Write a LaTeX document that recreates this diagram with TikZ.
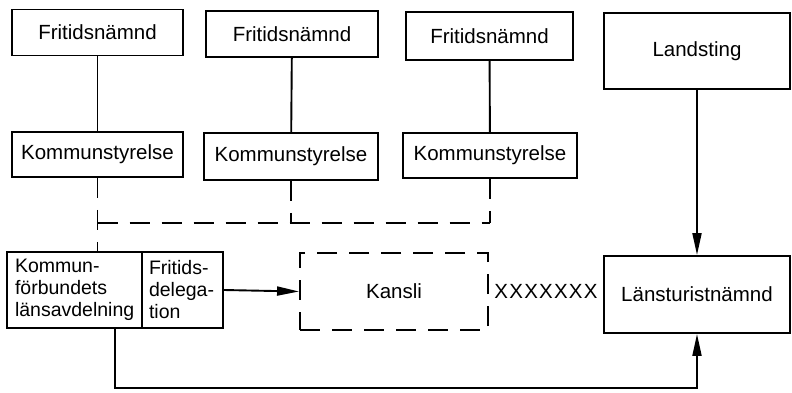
\documentclass[tikz,border=0pt]{standalone}
\usepackage{fontspec}
\setmainfont{Liberation Sans}
\newfontfamily\xfont{Liberation Sans}[LetterSpace=6]
\usetikzlibrary{arrows.meta}

\begin{document}
\begin{tikzpicture}[x=1pt,y=-1pt,line width=1.9pt,
  box/.style={draw, inner sep=0pt, minimum height=46pt, font=\fontsize{20.5}{22}\selectfont},
  twoline/.style={box, minimum height=76pt, align=left, inner xsep=6pt, font=\fontsize{19.5}{22}\selectfont},
  dashline/.style={dash pattern=on 20pt off 12pt},
  arr/.style={-{Triangle[length=22pt,width=9pt]}}]

   \useasboundingbox (0,0) rectangle (792,393);

   % top row
   \node[box, minimum width=171pt] (fn1) at (97.5,32.5) {Fritidsnämnd};
   \node[box, minimum width=172pt] (fn2) at (292,34) {Fritidsnämnd};
   \node[box, minimum width=167pt, minimum height=48pt] (fn3) at (489.5,36) {Fritidsnämnd};
   \node[box, minimum width=186pt, minimum height=76pt] (land) at (697,51) {Landsting};

   \node[box, minimum width=171pt, minimum height=45pt] (ks1) at (97.5,154.5) {Kommunstyrelse};
   \node[box, minimum width=174pt, minimum height=47pt] (ks2) at (291,156.5) {Kommunstyrelse};
   \node[box, minimum width=174pt, minimum height=45pt] (ks3) at (490,155.5) {Kommunstyrelse};

   % bottom row
   \node[twoline, text width=119pt, inner xsep=8pt] (kfb) at (74.5,290) {Kommun-\\förbundets\\länsavdelning};
   \node[twoline, text width=67pt, inner xsep=7pt] (fdl) at (182.5,290) {Fritids-\\delega-\\tion};
   \node[box, dashline, minimum width=188pt, minimum height=77pt] (kansli) at (394,291.5) {Kansli};
   \node[box, minimum width=186pt, minimum height=77pt] (lan) at (697,294.5) {Länsturistnämnd};
   \node[font=\xfont\fontsize{20.5}{22}\selectfont, inner sep=0pt] (xs) at (546,291) {XXXXXXX};

   \coordinate (bus) at (0,223);
   \coordinate (low) at (115,388);

   \draw (fn1) -- (ks1);
   \draw (fn2) -- (ks2);
   \draw (fn3) -- (ks3);

   \draw[dashline] (ks1.south) -- (ks1.south |- kfb.north);
   \draw[dashline] (ks2.south) -- (ks2.south |- bus);
   \draw[dashline] (ks3.south) -- (ks3.south |- bus);
   \draw[dashline] (ks1.south |- bus) -- (ks3.south |- bus);

   \draw[arr] (fdl.east) -- (kansli.west);
   \draw[arr] (land.south) -- (lan.north);
   \draw[arr] (low |- kfb.south) -- (low) -| (lan.south);
  \end{tikzpicture}
\end{document}
